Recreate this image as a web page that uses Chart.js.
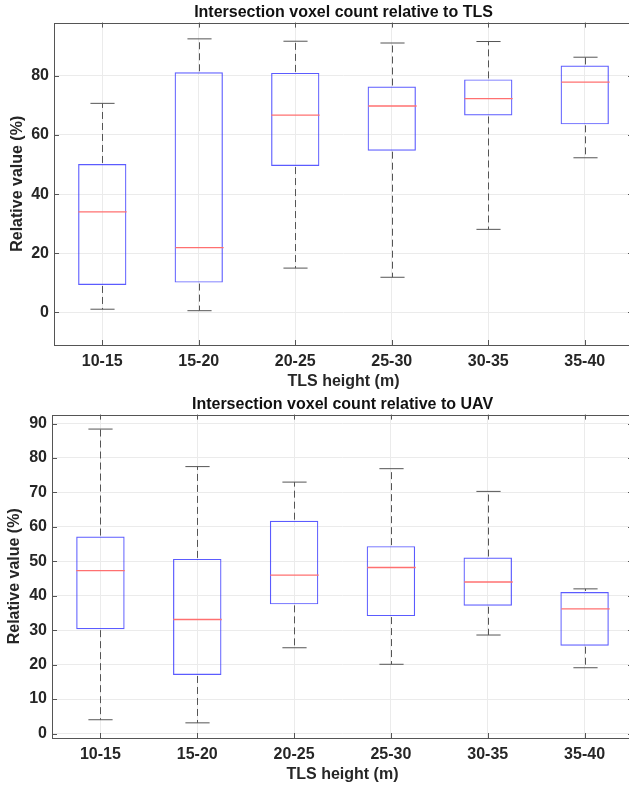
<!DOCTYPE html>
<html>
<head>
<meta charset="utf-8">
<script src="https://cdn.jsdelivr.net/npm/chart.js@4"></script>
<style>
  html, body { margin: 0; padding: 0; background: #fff; overflow: hidden; }
  .wrap { width: 634px; height: 392px; }
</style>
</head>
<body>
<div class="wrap"><canvas id="chartTLS" width="634" height="392"></canvas></div>
<div class="wrap" style="height:393px"><canvas id="chartUAV" width="634" height="393"></canvas></div>
<script>
const categories = ['10-15', '15-20', '20-25', '25-30', '30-35', '35-40']

// relative to TLS (%)
const tlsLow = [1.1, 0.6, 15.0, 11.9, 28.1, 52.3]
const tlsQ1 = [9.3, 10.1, 49.5, 54.7, 66.6, 63.6]
const tlsMedian = [34.0, 21.9, 66.7, 69.8, 72.3, 77.9]
const tlsQ3 = [50.2, 81.2, 81.0, 76.4, 78.8, 83.5]
const tlsHigh = [70.7, 92.5, 91.7, 91.1, 91.6, 86.3]
const tlsTicks = [0, 20, 40, 60, 80]

// relative to UAV (%)
const uavLow = [4.0, 3.1, 24.9, 20.1, 28.6, 19.1]
const uavQ1 = [30.3, 17.0, 37.5, 34.1, 37.1, 25.5]
const uavMedian = [47.3, 33.1, 46.0, 48.2, 44.0, 36.2]
const uavQ3 = [57.2, 50.7, 61.8, 54.4, 51.1, 41.1]
const uavHigh = [88.4, 77.5, 73.0, 76.9, 70.3, 42.0]
const uavTicks = [0, 10, 20, 30, 40, 50, 60, 70, 80, 90]

const textColor = '#262626'
const gridColor = '#ebebeb'
const fontFamily = '"Liberation Sans", Arial, Helvetica, sans-serif'

// whiskers, caps and medians drawn on the library's scales
const boxMarks = {
    id: 'boxMarks',
    afterDatasetsDraw(chart, args, opts) {
        const ctx = chart.ctx
        const x = chart.scales.x
        const y = chart.scales.y
        const bars = chart.getDatasetMeta(0).data
        ctx.save()
        opts.low.forEach((low, i) => {
            const cx = Math.round(x.getPixelForValue(i)) + 0.5
            const half = bars[i].width / 2
            const yLow = y.getPixelForValue(low)
            const yQ1 = y.getPixelForValue(opts.q1[i])
            const yQ3 = y.getPixelForValue(opts.q3[i])
            const yHigh = y.getPixelForValue(opts.high[i])
            const yMed = y.getPixelForValue(opts.median[i])

            ctx.strokeStyle = '#555'
            ctx.lineWidth = 1
            ctx.setLineDash([7, 4])
            ctx.beginPath()
            ctx.moveTo(cx, yQ3 - 1)
            ctx.lineTo(cx, yHigh)
            ctx.moveTo(cx, yQ1 + 1)
            ctx.lineTo(cx, yLow)
            ctx.stroke()

            ctx.setLineDash([])
            ctx.beginPath()
            ctx.moveTo(cx - half / 2, yHigh)
            ctx.lineTo(cx + half / 2, yHigh)
            ctx.moveTo(cx - half / 2, yLow)
            ctx.lineTo(cx + half / 2, yLow)
            ctx.stroke()

            ctx.strokeStyle = '#ff7070'
            ctx.lineWidth = 1.3
            ctx.beginPath()
            ctx.moveTo(cx - half, yMed)
            ctx.lineTo(cx + half, yMed)
            ctx.stroke()
        })
        ctx.restore()
    }
}

// box round the axes with inward ticks
const axesFrame = {
    id: 'axesFrame',
    afterDraw(chart) {
        const ctx = chart.ctx
        const {left, right, top, bottom} = chart.chartArea
        const tl = 5
        ctx.save()
        ctx.strokeStyle = '#555'
        ctx.lineWidth = 1
        ctx.beginPath()
        chart.scales.y.ticks.forEach(t => {
            const py = Math.round(chart.scales.y.getPixelForValue(t.value)) + 0.5
            ctx.moveTo(left, py)
            ctx.lineTo(left + tl, py)
            ctx.moveTo(right, py)
            ctx.lineTo(right - tl, py)
        })
        chart.scales.x.ticks.forEach((t, i) => {
            const px = Math.round(chart.scales.x.getPixelForValue(i)) + 0.5
            ctx.moveTo(px, bottom)
            ctx.lineTo(px, bottom - tl)
            ctx.moveTo(px, top)
            ctx.lineTo(px, top + tl)
        })
        ctx.stroke()
        ctx.strokeRect(Math.round(left) + 0.5, Math.round(top) + 0.5,
            Math.round(right - left), Math.round(bottom - top))
        ctx.restore()
    }
}

function makeBoxChart(id, title, low, q1, median, q3, high, tickValues, yMin, yMax, axisWidth, yTitlePad) {
    return new Chart(document.getElementById(id), {
        type: 'bar',
        data: {
            labels: categories,
            datasets: [{
                data: categories.map((c, i) => [q1[i], q3[i]]),
                backgroundColor: 'rgba(0,0,0,0)',
                borderColor: 'rgba(50,50,255,0.8)',
                borderWidth: 1.2,
                borderSkipped: false,
                categoryPercentage: 1,
                barPercentage: 0.5
            }]
        },
        options: {
            responsive: false,
            animation: false,
            layout: { padding: { right: 1 } },
            plugins: {
                legend: { display: false },
                tooltip: { enabled: false },
                title: {
                    display: true,
                    fullSize: false,
                    text: title,
                    color: '#111',
                    font: { family: fontFamily, size: 16, weight: 'bold' },
                    padding: { top: 3.4, bottom: 0 }
                },
                boxMarks: { low, q1, median, q3, high }
            },
            scales: {
                x: {
                    offset: true,
                    grid: { offset: false, color: gridColor, drawTicks: false },
                    border: { display: false },
                    ticks: { color: textColor, padding: 7, font: { family: fontFamily, size: 16, weight: 'bold' } },
                    title: {
                        display: true,
                        text: 'TLS height (m)',
                        color: textColor,
                        font: { family: fontFamily, size: 16, weight: 'bold' },
                        padding: { top: 0, bottom: 1 }
                    },
                    afterFit: s => { s.height = 47 }
                },
                y: {
                    min: yMin,
                    max: yMax,
                    grid: { color: gridColor, drawTicks: false },
                    border: { display: false },
                    ticks: { color: textColor, padding: 5, font: { family: fontFamily, size: 16, weight: 'bold' } },
                    afterBuildTicks: s => { s.ticks = tickValues.map(v => ({ value: v })) },
                    title: {
                        display: true,
                        text: 'Relative value (%)',
                        color: textColor,
                        font: { family: fontFamily, size: 16, weight: 'bold' },
                        padding: { top: yTitlePad, bottom: 0 }
                    },
                    afterFit: s => { s.width = axisWidth }
                }
            }
        },
        plugins: [boxMarks, axesFrame]
    })
}

makeBoxChart('chartTLS', 'Intersection voxel count relative to TLS',
    tlsLow, tlsQ1, tlsMedian, tlsQ3, tlsHigh, tlsTicks, -11, 98, 54, 8)

makeBoxChart('chartUAV', 'Intersection voxel count relative to UAV',
    uavLow, uavQ1, uavMedian, uavQ3, uavHigh, uavTicks, -1.3, 92.6, 52, 5)
</script>
</body>
</html>
